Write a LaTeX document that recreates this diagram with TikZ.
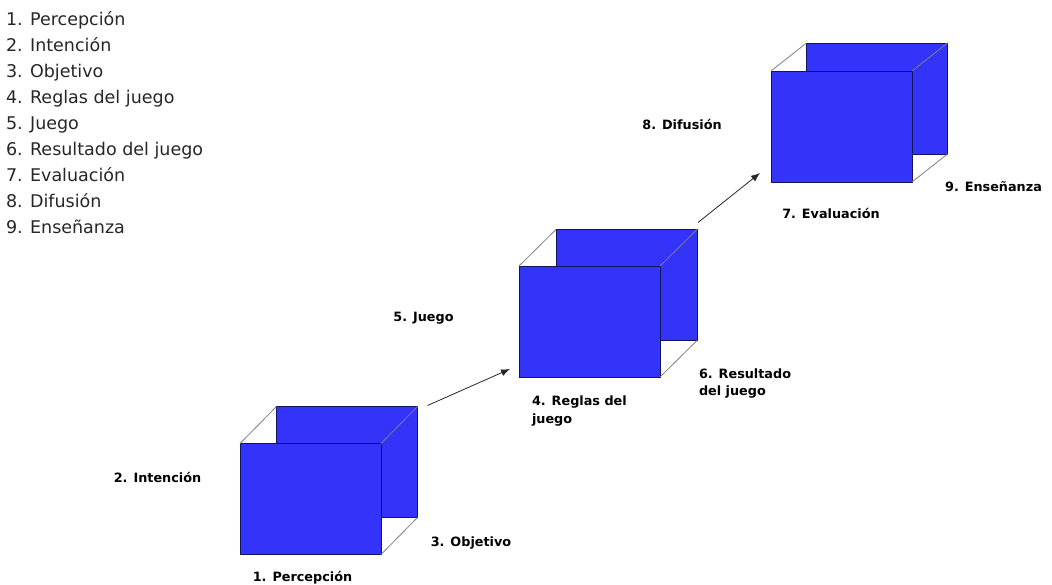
\documentclass[tikz,border=0pt]{standalone}
\usepackage{fontspec}
\setmainfont{DejaVu Sans}
\usetikzlibrary{arrows.meta}
\definecolor{cubeblue}{RGB}{51,51,250}
\definecolor{cubeedge}{RGB}{20,20,90}

\begin{document}
\begin{tikzpicture}[x=1pt, y=-1pt, outer sep=0pt]
  \tikzstyle{face}=[
    draw=cubeedge,
    rectangle,
    minimum width=141pt,
    minimum height=111pt,
    fill=cubeblue,
    inner sep=0pt,
    anchor=center,
    line width=0.8pt
  ]
  \tikzstyle{edge} = [draw=black!50, line width=0.8pt]
  \tikzstyle{arrow} = [line width=0.8pt,->,>={Latex[length=9pt,width=7pt]}, draw=black!85]
  \tikzstyle{label} = [font=\fontsize{12.8}{17.5}\selectfont\bfseries, inner sep=0pt, align=left]
  \tikzstyle{item} = [font=\fontsize{17.5}{20}\selectfont, inner sep=0pt, anchor=base west, text=black!85]

  \useasboundingbox (0,0) rectangle (1052,584);

  % list of steps
  \node[item] (item1) at (6,25.5) {1. Percepción};
  \node[item] (item2) at (6,51.5) {2. Intención};
  \node[item] (item3) at (6,77.5) {3. Objetivo};
  \node[item] (item4) at (6,103.5) {4. Reglas del juego};
  \node[item] (item5) at (6,129.5) {5. Juego};
  \node[item] (item6) at (6,155.5) {6. Resultado del juego};
  \node[item] (item7) at (6,181.5) {7. Evaluación};
  \node[item] (item8) at (6,207.5) {8. Difusión};
  \node[item] (item9) at (6,233.5) {9. Enseñanza};

  % first cube
  \node[face] (back1) at (347,462) {};
  \node[face] (front1) at (310.5,499) {};
  \draw[edge] (front1.north west) -- (back1.north west);
  \draw[edge] (front1.north east) -- (back1.north east);
  \draw[edge] (front1.south east) -- (back1.south east);

  % second cube
  \node[face] (back2) at (626.5,285) {};
  \node[face] (front2) at (589.5,321.5) {};
  \draw[edge] (front2.north west) -- (back2.north west);
  \draw[edge] (front2.north east) -- (back2.north east);
  \draw[edge] (front2.south east) -- (back2.south east);

  % third cube
  \node[face] (back3) at (877,98.5) {};
  \node[face] (front3) at (841.5,126.5) {};
  \draw[edge] (front3.north west) -- (back3.north west);
  \draw[edge] (front3.north east) -- (back3.north east);
  \draw[edge] (front3.south east) -- (back3.south east);

  \draw[arrow] ([shift={(10,-1)}]back1.north east) -- ([shift={(-9,-8)}]front2.south west);
  \draw[arrow] ([shift={(1,-7)}]back2.north east) -- ([shift={(-11,-9)}]front3.south west);

  \node[label] (l1) at (302.5,578) {1. Percepción};
  \node[label] (l2) at (157.5,477) {2. Intención};
  \node[label] (l3) at (471,543) {3. Objetivo};
  \node[label, anchor=west] (l4) at (532,411) {4. Reglas del\\juego};
  \node[label] (l5) at (423.5,318) {5. Juego};
  \node[label, anchor=west] (l6) at (699,383.5) {6. Resultado\\del juego};
  \node[label] (l7) at (831,213) {7. Evaluación};
  \node[label] (l8) at (682,124) {8. Difusión};
  \node[label] (l9) at (993.5,187) {9. Enseñanza};
\end{tikzpicture}
\end{document}
